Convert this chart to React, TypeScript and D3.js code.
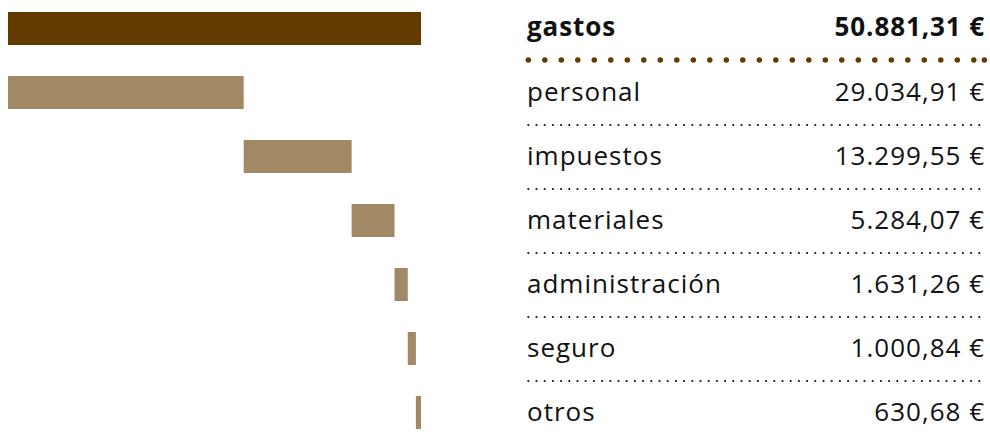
import React from "react";
import * as d3 from "d3";

const categories = ["gastos", "personal", "impuestos", "materiales", "administración", "seguro", "otros"];
const values = [50881.31, 29034.91, 13299.55, 5284.07, 1631.26, 1000.84, 630.68];
const valueLabels = ["50.881,31 €", "29.034,91 €", "13.299,55 €", "5.284,07 €", "1.631,26 €", "1.000,84 €", "630,68 €"];

const W = 990;
const H = 444;
const DARK = "#633a00";
const LIGHT = "#a28966";
const FONT = "'Open Sans', sans-serif";

export default function App() {
  const total = values[0];
  const x = d3.scaleLinear().domain([0, total]).range([8, 421]);
  const y = d3.scaleBand<string>().domain(categories).range([12, 12 + 64 * 7 - 31]).paddingInner(31 / 64).paddingOuter(0);

  // waterfall starts
  const starts: number[] = [];
  let acc = 0;
  values.forEach((v, i) => {
    if (i === 0) {
      starts.push(0);
    } else {
      starts.push(acc);
      acc += v;
    }
  });

  return (
    <svg width={W} height={H} style={{ position: "absolute", left: 0, top: 0, display: "block" }}>
      {categories.map((c, i) => {
        const y0 = y(c) as number;
        return (
          <rect
            key={"b" + c}
            x={x(starts[i])}
            y={y0}
            width={x(starts[i] + values[i]) - x(starts[i])}
            height={y.bandwidth()}
            fill={i === 0 ? DARK : LIGHT}
          />
        );
      })}
      {categories.map((c, i) => {
        const y0 = y(c) as number;
        const bold = i === 0;
        const base = y0 + (bold ? 24 : 25);
        const ls = bold ? 0.9 : 1;
        return (
          <g key={"t" + c}>
            <text x={527} y={base} fontFamily={FONT} fontSize={26} letterSpacing={ls} fontWeight={bold ? 700 : 400} fill="#111">
              {c}
            </text>
            <text x={985} y={base} textAnchor="end" fontFamily={FONT} fontSize={26} letterSpacing={ls} fontWeight={bold ? 700 : 400} fill="#111">
              {valueLabels[i]}
            </text>
            {i < categories.length - 1 && (
              bold ? (
                <g>
                  <line x1={528.3} x2={987} y1={y0 + 48} y2={y0 + 48} stroke={DARK} strokeWidth={5.5} strokeLinecap="round" strokeDasharray="0 16.5" />
                  <circle cx={984.4} cy={y0 + 48} r={2.75} fill={DARK} />
                </g>
              ) : (
                <line x1={528.3} x2={987} y1={y0 + 49} y2={y0 + 49} stroke="#111" strokeWidth={2.2} strokeLinecap="round" strokeDasharray="0 8.2" />
              )
            )}
          </g>
        );
      })}
    </svg>
  );
}
